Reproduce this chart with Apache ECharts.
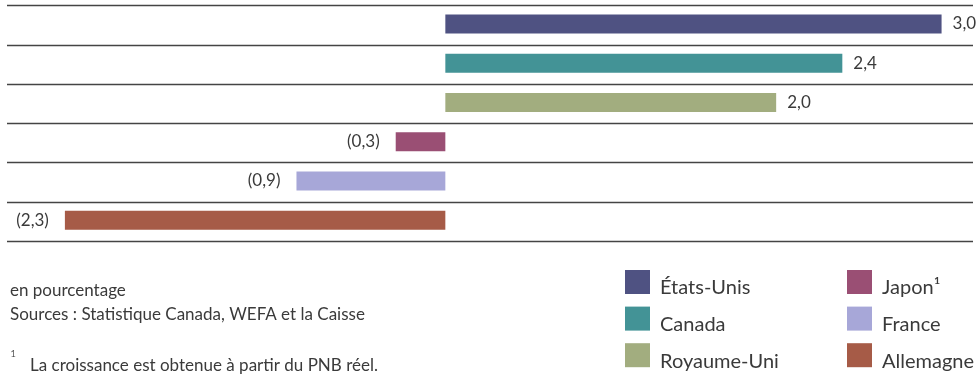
<!DOCTYPE html>
<html>
<head>
<meta charset="utf-8">
<script src="https://cdn.jsdelivr.net/npm/echarts@6/dist/echarts.min.js"></script>
<style>
  html, body { margin: 0; padding: 0; background: #fff; }
  #chart { width: 977px; height: 376px; }
</style>
</head>
<body>
<div id="chart"></div>
<script>
// Croissance économique, en pourcentage
const countries = ['États-Unis', 'Canada', 'Royaume-Uni', 'Japon', 'France', 'Allemagne'];
const growth = [3.0, 2.4, 2.0, -0.3, -0.9, -2.3];
const barColors = ['#4f5282', '#439396', '#a2ad7f', '#9a4f74', '#a7a7d8', '#a65b47'];
const legendColumns = [
  ['États-Unis', 'Canada', 'Royaume-Uni'],
  ['Japon', 'France', 'Allemagne']
];

const FONT = 'Lato, "DejaVu Sans", sans-serif';
const TEXT = '#3a3a3a';

// French number format; negatives shown in parentheses
function fmt(v) {
  const s = Math.abs(v).toFixed(1).replace('.', ',');
  return v < 0 ? '(' + s + ')' : s;
}

const series = countries.map((name, i) => ({
  name: name,
  type: 'bar',
  stack: 'tout',
  xAxisIndex: 0,
  yAxisIndex: 0,
  barWidth: 19,
  itemStyle: { color: barColors[i] },
  label: {
    show: true,
    position: growth[i] < 0 ? 'left' : 'right',
    distance: growth[i] < 0 ? 16 : 11,
    formatter: p => fmt(p.value),
    color: TEXT,
    fontFamily: FONT,
    fontSize: 17
  },
  data: countries.map((c, j) => (j === i ? growth[i] : '-'))
}));

// legend labels sit a little below the centre of their swatch
const legendText = {
  fontFamily: FONT,
  fontSize: 20,
  color: TEXT,
  rich: {
    t: { fontFamily: FONT, fontSize: 20, color: TEXT, padding: [12, 0, 0, 5] }
  }
};

// one legend entry per row so each swatch lands on its own line
const colLeft = [625, 847];
const legends = [];
legendColumns.forEach((col, c) => {
  col.forEach((name, r) => {
    legends.push({
      orient: 'vertical', left: colLeft[c], top: 270 + r * 36.6, padding: 0,
      itemWidth: 25, itemHeight: 24,
      icon: 'rect', data: [name], textStyle: legendText,
      formatter: n => '{t|' + (n === 'Japon' ? 'Japon¹' : n) + '}',
      selectedMode: false
    });
  });
});

const option = {
  animation: false,
  backgroundColor: '#ffffff',
  grid: [
    { left: 7, right: 4, top: 4.3, height: 235.5 },   // bars
    { left: 7, right: 4, top: 5.5, height: 235.5 }    // separator rules
  ],
  xAxis: [
    { type: 'value', gridIndex: 0, min: -2.65, max: 3.19, show: false },
    { type: 'value', gridIndex: 1, min: 0, max: 1, show: false }
  ],
  yAxis: [
    {
      type: 'category', gridIndex: 0, data: countries, inverse: true,
      axisLine: { show: false }, axisTick: { show: false },
      axisLabel: { show: false }, splitLine: { show: false }
    },
    {
      type: 'category', gridIndex: 1, data: countries, inverse: true,
      axisLine: { show: false }, axisTick: { show: false },
      axisLabel: { show: false },
      splitLine: { show: true, interval: 0, lineStyle: { color: '#444444', width: 1.4 } }
    }
  ],
  legend: legends,
  graphic: [
    { type: 'text', left: 10, top: 282, style: { text: 'en pourcentage', font: '17px ' + FONT, fill: TEXT } },
    { type: 'text', left: 10, top: 306, style: { text: 'Sources : Statistique Canada, WEFA et la Caisse', font: '17px ' + FONT, fill: TEXT } },
    { type: 'text', left: 10, top: 350, style: { text: '¹', font: '300 19px ' + FONT, fill: TEXT } },
    { type: 'text', left: 30, top: 357, style: { text: 'La croissance est obtenue à partir du PNB réel.', font: '17px ' + FONT, fill: TEXT } }
  ],
  series: series
};

echarts.init(document.getElementById('chart'), null, { renderer: 'canvas' }).setOption(option);
</script>
</body>
</html>
